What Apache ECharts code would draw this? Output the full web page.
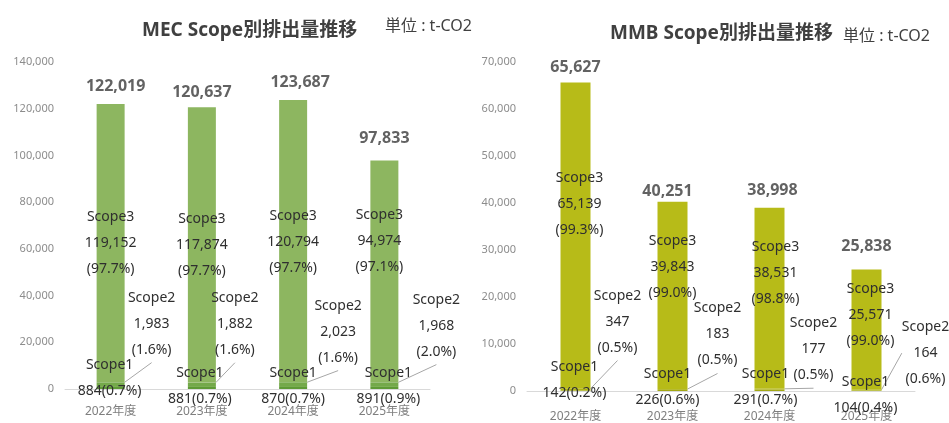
<!DOCTYPE html>
<html>
<head>
<meta charset="utf-8">
<script src="https://cdn.jsdelivr.net/npm/echarts@6/dist/echarts.min.js"></script>
<style>
  html, body { margin: 0; padding: 0; background: #fff; }
  #container { width: 949px; height: 423px; }
</style>
</head>
<body>
<div id="container"></div>
<script>
var years = ['2022年度', '2023年度', '2024年度', '2025年度'];

// MEC
var mecScope1 = [884, 881, 870, 891];
var mecScope2 = [1983, 1882, 2023, 1968];
var mecScope3 = [119152, 117874, 120794, 94974];
var mecTotal = [122019, 120637, 123687, 97833];
var mecPct1 = ['0.7%', '0.7%', '0.7%', '0.9%'];
var mecPct2 = ['1.6%', '1.6%', '1.6%', '2.0%'];
var mecPct3 = ['97.7%', '97.7%', '97.7%', '97.1%'];

// MMB
var mmbScope1 = [142, 226, 291, 104];
var mmbScope2 = [347, 183, 177, 164];
var mmbScope3 = [65139, 39843, 38531, 25571];
var mmbTotal = [65627, 40251, 38998, 25838];
var mmbPct1 = ['0.2%', '0.6%', '0.7%', '0.4%'];
var mmbPct2 = ['0.5%', '0.5%', '0.5%', '0.6%'];
var mmbPct3 = ['99.3%', '99.0%', '98.8%', '99.0%'];

// label shifts [dx, dy] from the default label spot
var mecShift = {
    s1: [[-1, -10], [-2, -2], [0, -2], [4, -2]],
    s2: [[41, -61], [33, -61], [45, -53], [52, -59]],
    s3: [[0, 0], [0, 0], [0, 1], [-5, -30]],
    tot: [[5, -1], [0, 2], [7, -1], [0, -6]]
};
var mmbShift = {
    s1: [[-1, -11], [-5, -3], [-4, -3], [-1, 4]],
    s2: [[42, -68], [45, -55], [44, -40], [59, -37]],
    s3: [[4, -32], [0, -28], [6, -25], [4, -15]],
    tot: [[0, 1], [-5, 6], [3, -1], [0, -7]]
};

var fmt = function (v) { return echarts.format.addCommas(v); };
var textColor = '#2f2f2f';
var font = '"Noto Sans", "Noto Sans CJK JP", sans-serif';

function shiftFn(arr) {
    return function (p) {
        var s = arr[p.dataIndex];
        return { dx: s[0], dy: s[1] };
    };
}

function makeSeries(idx, s1, s2, s3, tot, p1, p2, p3, shift, colors, bw) {
    var base = {
        type: 'bar',
        stack: 'st' + idx,
        xAxisIndex: idx,
        yAxisIndex: idx,
        barWidth: bw,
        silent: true
    };
    return [
        Object.assign({}, base, {
            name: 'Scope1',
            data: s1,
            itemStyle: { color: colors[0] },
            label: {
                show: true, position: 'inside', color: textColor, fontFamily: font,
                fontSize: 14, lineHeight: 26,
                formatter: function (p) { return 'Scope1\n' + fmt(p.value) + '(' + p1[p.dataIndex] + ')'; }
            },
            labelLayout: shiftFn(shift.s1)
        }),
        Object.assign({}, base, {
            name: 'Scope2',
            data: s2,
            itemStyle: { color: colors[1] },
            label: {
                show: true, position: 'inside', color: textColor, fontFamily: font,
                fontSize: 14, lineHeight: 26,
                formatter: function (p) { return 'Scope2\n' + fmt(p.value) + '\n(' + p2[p.dataIndex] + ')'; }
            },
            labelLine: { show: true, lineStyle: { color: '#a6a6a6', width: 1 } },
            labelLayout: shiftFn(shift.s2)
        }),
        Object.assign({}, base, {
            name: 'Scope3',
            data: s3,
            itemStyle: { color: colors[2] },
            label: {
                show: true, position: 'inside', color: textColor, fontFamily: font,
                fontSize: 14, lineHeight: 26,
                formatter: function (p) { return 'Scope3\n' + fmt(p.value) + '\n(' + p3[p.dataIndex] + ')'; }
            },
            labelLayout: shiftFn(shift.s3)
        }),
        {
            type: 'scatter',
            name: 'Total',
            xAxisIndex: idx,
            yAxisIndex: idx,
            data: tot,
            symbolSize: 1,
            silent: true,
            itemStyle: { color: 'rgba(0,0,0,0)' },
            label: {
                show: true, position: 'top', distance: 8, color: '#3b3b3b', fontFamily: font,
                fontSize: 16, fontWeight: 'bold',
                formatter: function (p) { return fmt(p.value); }
            },
            labelLayout: shiftFn(shift.tot)
        }
    ];
}

function xAx(idx) {
    return {
        type: 'category', gridIndex: idx, data: years,
        axisLine: { lineStyle: { color: '#d9d9d9' } },
        axisTick: { show: false },
        axisLabel: { color: '#7f7f7f', fontSize: 12, fontFamily: font, margin: idx === 0 ? 17 : 20 }
    };
}
function yAx(idx, max, step) {
    return {
        type: 'value', gridIndex: idx, min: 0, max: max, interval: step,
        axisLine: { show: false }, axisTick: { show: false },
        splitLine: { show: false },
        axisLabel: { color: '#8c8c8c', fontSize: 11, fontFamily: font, margin: 11,
            formatter: function (v) { return fmt(v); } }
    };
}

var titleStyle = { color: '#404040', fontSize: 19, fontWeight: 'bold', fontFamily: font };
var unitStyle = { color: '#404040', fontSize: 16, fontWeight: 'normal', fontFamily: font };

var myChart = echarts.init(document.getElementById('container'));
var option = {
    animation: false,
    title: [
        { text: 'MEC Scope別排出量推移', left: 137, top: 16, textStyle: titleStyle },
        { text: '単位 : t-CO2', left: 380, top: 13, textStyle: unitStyle },
        { text: 'MMB Scope別排出量推移', left: 605, top: 19, textStyle: titleStyle },
        { text: '単位 : t-CO2', left: 838, top: 23, textStyle: unitStyle }
    ],
    grid: [
        { left: 65, top: 62, width: 365, height: 327 },
        { left: 527, top: 62, width: 388, height: 330 }
    ],
    xAxis: [xAx(0), xAx(1)],
    yAxis: [yAx(0, 140000, 20000), yAx(1, 70000, 10000)],
    series: [].concat(
        makeSeries(0, mecScope1, mecScope2, mecScope3, mecTotal, mecPct1, mecPct2, mecPct3,
            mecShift, ['#5e9a36', '#74a94a', '#8db660'], 28),
        makeSeries(1, mmbScope1, mmbScope2, mmbScope3, mmbTotal, mmbPct1, mmbPct2, mmbPct3,
            mmbShift, ['#a3a814', '#adb216', '#b7bb18'], 30)
    )
};
myChart.setOption(option, true);
</script>
</body>
</html>
